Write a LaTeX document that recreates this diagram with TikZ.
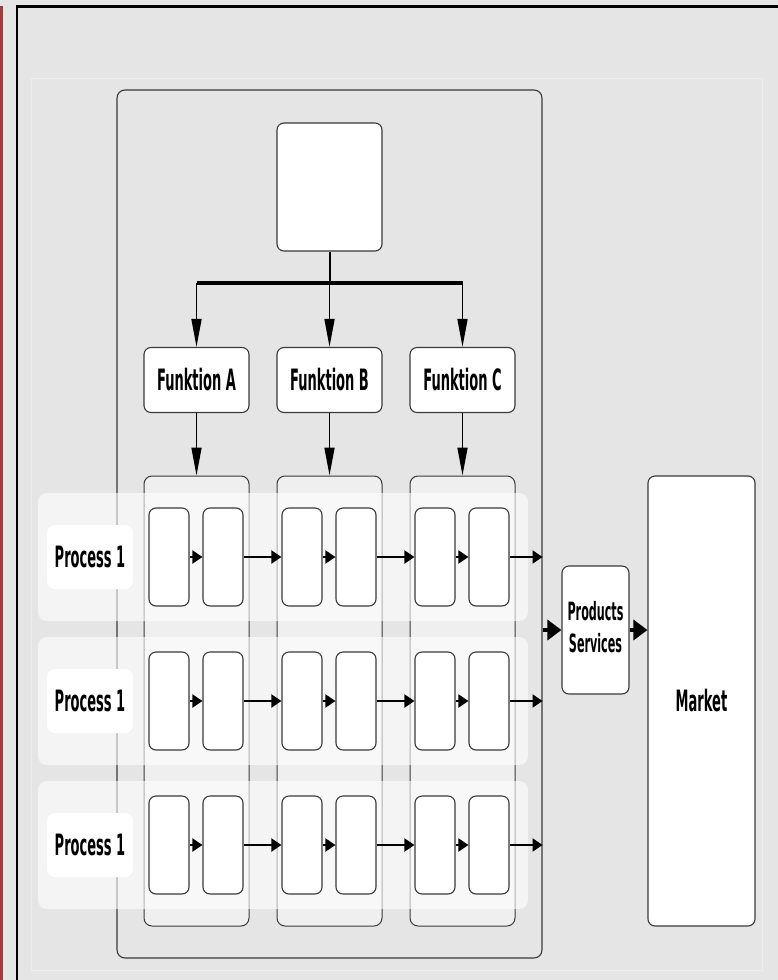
\documentclass[tikz,border=0pt]{standalone}
\usepackage{graphicx}
\usepackage{fontspec}
\setmainfont{DejaVu Sans}
\usetikzlibrary{arrows.meta,calc}
\definecolor{bg}{HTML}{E5E5E5}
\definecolor{edge}{HTML}{3A3A3A}
\definecolor{redline}{HTML}{A83A3A}
\definecolor{faint}{HTML}{EDEDED}
\newcommand{\lbltext}[2][14]{\scalebox{0.93}[2.1]{\fontsize{#1}{16}\selectfont\bfseries #2}}
\begin{document}
\begin{tikzpicture}[x=1pt,y=-1pt,
  box/.style={draw=edge, line width=1.1pt, fill=white, rounded corners=7pt, inner sep=0pt},
  col/.style={draw=edge, line width=1pt, fill=white, fill opacity=0.4, rounded corners=8pt, minimum width=105pt, minimum height=450pt, inner sep=0pt},
  band/.style={fill=white, fill opacity=0.6, rounded corners=9pt, minimum width=490pt, minimum height=128pt, inner sep=0pt},
  procl/.style={fill=white, rounded corners=8pt, minimum width=86pt, minimum height=64pt, inner sep=0pt},
  inner/.style={box, minimum width=40pt, minimum height=98pt},
  func/.style={box, minimum width=105pt, minimum height=65pt},
  flow/.style={line width=2pt, -{Triangle[length=10pt,width=13pt]}},
  bigflow/.style={line width=4pt, -{Triangle[length=14pt,width=20pt]}},
  down/.style={line width=1.6pt, -{Triangle[length=28pt,width=10pt]}}
]
\useasboundingbox (0,0) rectangle (778,980);
\fill[bg] (0,0) rectangle (778,980);
\draw[redline, line width=3pt] (1.5,6) -- (1.5,980);
\draw[black, line width=2.5pt] (17,980) -- (17,6.5) -- (778,6.5);
\draw[faint, line width=1pt] (31,78) rectangle (762,970);

% outer container
\node[draw=edge, line width=1.1pt, fill=bg, rounded corners=8pt, minimum width=425pt, minimum height=868pt, inner sep=0pt] (outer) at (329.5,524) {};

% columns
\node[col] (colA) at (196.5,701) {};
\node[col] (colB) at (329.5,701) {};
\node[col] (colC) at (462.5,701) {};

% top box and functions
\node[box, minimum width=105pt, minimum height=128pt] (top) at (329.5,187) {};
\node[func] (fA) at (196.5,380) {\lbltext{Funktion A}};
\node[func] (fB) at (329.5,380) {\lbltext{Funktion B}};
\node[func] (fC) at (462.5,380) {\lbltext{Funktion C}};

\coordinate (bus) at (329.5,283);
\draw[line width=2pt] (top.south) -- (bus);
\draw[line width=4pt] (fA.north |- bus) -- (fC.north |- bus);
\draw[down] (fA.north |- bus) -- (fA.north);
\draw[down] (bus) -- (fB.north);
\draw[down] (fC.north |- bus) -- (fC.north);
\draw[down] (fA.south) -- (colA.north);
\draw[down] (fB.south) -- (colB.north);
\draw[down] (fC.south) -- (colC.north);

% rows
\foreach \r/\y in {1/557,2/701,3/845}{
  \node[band] (r\r) at (283,\y) {};
  \node[procl] (p\r) at (90,\y) {\lbltext{Process 1}};
  \foreach \i/\x in {1/169,2/223,3/302,4/356,5/435,6/489}{
    \node[inner] (b\r\i) at (\x,\y) {};
  }
  \foreach \i/\j in {1/2,2/3,3/4,4/5,5/6}{
    \draw[flow] (b\r\i.east) -- (b\r\j.west);
  }
  \coordinate (e\r) at (outer.east |- b\r6.east);
  \draw[flow] (b\r6.east) -- (e\r);
}

% products and market
\node[box, minimum width=67pt, minimum height=128pt] (prod) at (595.5,630)
  {\scalebox{0.93}[2.1]{\fontsize{12}{15}\selectfont\bfseries\begin{tabular}{@{}c@{}}Products\\Services\end{tabular}}};
\node[box, minimum width=107pt, minimum height=450pt] (market) at (701.5,701) {\lbltext{Market}};
\coordinate (pin) at (outer.east |- prod.west);
\draw[bigflow] (pin) -- (prod.west);
\draw[bigflow] (prod.east) -- (market.west |- prod.east);
\end{tikzpicture}
\end{document}
